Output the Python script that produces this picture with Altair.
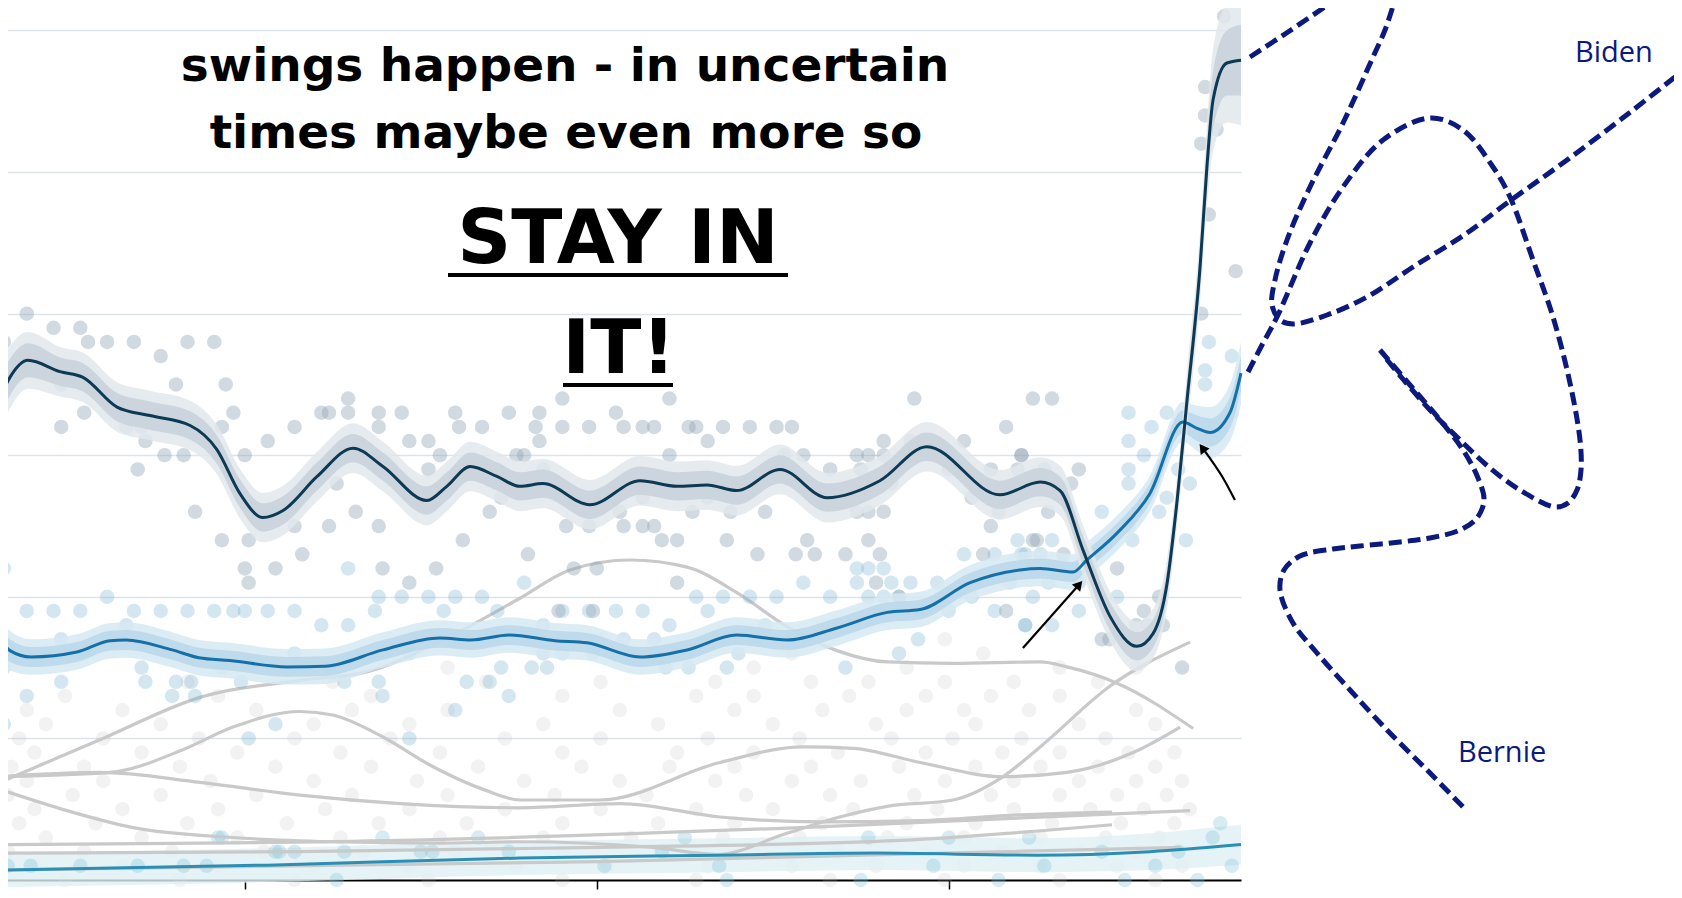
import altair as alt
import pandas as pd

BASE = pd.Timestamp("2019-04-25")


def to_dates(days):
    return [(BASE + pd.Timedelta(days=float(d))).strftime("%Y-%m-%dT%H:%M:%S") for d in days]


# ---------------- polling averages (day offset from 2019-04-25, percent) ----------------
biden_day = [3.0, 5.6, 10.3, 18.7, 24.7, 33.6, 42.2, 52.7, 59.7, 65.7, 71.7, 77.0, 85.9, 95.3, 103.1,
             114.6, 119.8, 125.9, 132.9, 138.9, 144.9, 157.2, 170.3, 180.0, 187.8, 195.6, 206.9, 219.2,
             233.0, 245.3, 264.4, 274.9, 280.1, 286.1, 293.2, 300.2, 304.4, 308.1, 310.7, 313.3, 316.7,
             318.5, 320.1, 323.7, 327.4]
biden_pct = [34.1, 35.5, 36.7, 35.9, 35.5, 33.4, 32.8, 32.1, 30.4, 27.3, 25.6, 26.1, 28.5, 30.5, 29.2,
             26.8, 27.8, 29.2, 28.5, 27.8, 28.0, 26.5, 28.2, 27.8, 27.9, 27.5, 29.0, 27.0,
             28.2, 30.6, 27.2, 28.1, 27.5, 23.3, 18.6, 16.5, 17.4, 21.0, 26.8, 33.9, 43.3,
             50.4, 55.1, 57.7, 57.9]
biden_in = [1.4, 1.3, 1.2] + [1.0] * 36 + [1.2, 1.4, 1.7, 2.0, 2.3, 2.5]
biden_out = [2.4, 2.2, 2.0] + [1.75] * 36 + [2.1, 2.5, 3.0, 3.6, 4.2, 4.6]

sanders_day = [3.0, 5.6, 11.1, 23.1, 31.8, 35.9, 48.0, 55.0, 63.1, 78.0, 88.0, 103.1, 118.0, 126.1,
               136.1, 148.1, 156.4, 170.3, 182.6, 195.6, 208.7, 221.8, 234.9, 243.5, 256.6, 269.6,
               274.9, 283.5, 287.1, 295.0, 303.6, 312.2, 315.9, 319.3, 324.5, 327.4]
sanders_pct = [17.1, 16.2, 15.75, 16.1, 16.9, 16.95, 16.25, 15.7, 15.5, 15.05, 15.1, 16.25, 17.1, 16.95,
               17.3, 16.9, 16.75, 15.75, 16.25, 17.3, 16.95, 17.8, 18.9, 19.1, 21.0, 21.9,
               22.0, 21.75, 22.6, 24.5, 27.3, 32.35, 31.9, 31.6, 33.0, 35.8]
sanders_in = [0.9, 0.8] + [0.7] * 29 + [0.8, 0.9, 1.0, 1.1, 1.2]
sanders_out = [1.5, 1.4] + [1.25] * 29 + [1.4, 1.6, 1.8, 2.0, 2.2]

teal_day = [3.0, 72.8, 138.9, 191.2, 232.2, 274.1, 303.6, 327.4]
teal_pct = [0.7, 1.05, 1.55, 1.75, 1.9, 1.75, 2.0, 2.5]
teal_band = [1.2, 1.2, 1.2, 1.2, 1.2, 1.2, 1.3, 1.4]

# other candidates (grey)
grey1_day = [3.0, 29.1, 55.3, 81.4, 98.9, 118.8, 138.9, 152.0, 167.7, 182.6, 195.6, 208.7, 221.8,
             234.9, 252.1, 274.9, 281.9, 295.0, 314.9]
grey1_pct = [6.9, 9.9, 12.9, 14.1, 14.7, 16.95, 19.9, 21.9, 22.6, 22.1, 20.3, 17.9, 16.2,
             15.4, 15.3, 15.4, 15.05, 13.9, 10.7]
grey2_day = [3.0, 31.8, 50.8, 63.9, 81.4, 90.0, 103.1, 116.2, 129.3, 138.9, 159.8, 191.2, 212.9,
             226.0, 243.5, 265.2, 281.9, 299.2, 311.5]
grey2_pct = [7.3, 7.6, 9.2, 10.8, 11.9, 11.65, 10.1, 8.0, 6.4, 5.65, 5.65, 8.3, 9.4,
             9.3, 8.3, 7.3, 7.6, 9.0, 10.8]
grey3_day = [3.0, 29.1, 55.3, 81.4, 107.6, 138.9, 165.1, 191.2, 217.3, 243.5, 269.6, 293.7]
grey3_pct = [7.3, 7.6, 6.9, 6.0, 5.4, 5.1, 5.4, 4.45, 4.1, 4.2, 4.6, 4.8]
grey4_day = [3.0, 20.5, 37.8, 63.9, 90.0, 116.2, 138.9, 173.7, 190.4, 208.7, 222.5, 234.9, 252.1,
             265.2, 274.9, 293.2, 314.1]
grey4_pct = [6.4, 4.9, 3.7, 3.0, 2.7, 2.6, 2.7, 2.3, 1.8, 3.3, 4.45, 5.2, 5.65,
             7.3, 9.4, 13.7, 16.8]
grey5_day = [3.0, 81.4, 159.8, 238.3, 293.7]
grey5_pct = [1.9, 2.0, 2.3, 2.8, 3.9]
grey6_day = [3.0, 107.6, 212.2, 314.1]
grey6_pct = [2.5, 2.8, 3.7, 4.9]
grey7_day = [3.0, 159.8, 311.8]
grey7_pct = [0.7, 1.3, 2.3]

# ---------------- individual polls (day, percent) ----------------
biden_polls = [
    (3, 39), (10, 40), (17, 39), (24, 39), (26, 38), (31, 38), (38, 38), (45, 37), (52, 38), (59, 38),
    (62, 35), (49, 35), (4, 38), (4, 36), (10, 36), (19, 35), (25, 35), (25, 33), (19, 32), (36, 32),
    (40, 32), (41, 31), (39, 29), (46, 30), (51, 30), (48, 32), (53, 32), (61, 32), (64, 33), (67, 30),
    (73, 31), (80, 32), (87, 33), (89, 33), (94, 34), (94, 33), (102, 33), (102, 32), (108, 33), (110, 31),
    (115, 31), (118, 30), (115, 29), (122, 33), (123, 32), (129, 32), (136, 33), (138, 30), (133, 29), (134, 27),
    (131, 26), (124, 24), (117, 22), (110, 21), (103, 22), (102, 25), (96, 26), (89, 25), (91, 28), (80, 25),
    (75, 26), (75, 22), (68, 24), (61, 24), (67, 22), (68, 21), (54, 26), (82, 23),
    (150, 34), (178, 34), (242, 34), (273, 34), (144, 33), (164, 33),
    (143, 32), (150, 32), (157, 32), (166, 32), (171, 32), (174, 32), (183, 32), (185, 32), (192, 32),
    (199, 32), (206, 32), (210, 32), (266, 32),
    (144, 31), (188, 31), (234, 31), (255, 31), (241, 31),
    (140, 30), (178, 30), (208, 30), (213, 30), (227, 30), (230, 30), (234, 30), (270, 30),
    (145, 29), (220, 29), (228, 29), (251, 29), (262, 29), (269, 29),
    (189, 28), (192, 28), (213, 28), (236, 28), (271, 28),
    (162, 27), (171, 27), (188, 27), (223, 27), (257, 27), (264, 27),
    (165, 26), (184, 26), (194, 26), (203, 26), (227, 26), (230, 26), (234, 26),
    (151, 25), (157, 25), (166, 25), (171, 25), (174, 25), (262, 25),
    (176, 24), (180, 24), (193, 24), (214, 24), (230, 24), (273, 24),
    (141, 23), (201, 23), (211, 23), (216, 23), (224, 23), (233, 23), (260, 23),
    (153, 22), (159, 22), (180, 21), (232, 21), (238, 20), (158, 19), (149, 19), (266, 19),
    (278, 34), (270, 30), (276, 29), (285, 29), (283, 28), (277, 26), (264, 26), (274, 24), (281, 23),
    (295, 22), (302, 19), (303, 18), (300, 18), (291, 17), (293, 17), (306, 20), (307, 18), (312, 15),
    (323, 61), (325, 58), (318, 56), (318, 54), (321, 53), (317, 52), (319, 47), (326, 43), (317, 40),
]

sanders_polls = [
    (4, 22), (31, 20), (10, 19), (17, 19), (24, 19), (38, 19), (45, 19), (52, 19), (59, 19), (64, 19),
    (67, 19), (73, 19), (80, 19), (36, 18), (87, 18), (94, 18), (94, 22), (102, 20), (108, 20), (115, 20),
    (122, 20), (129, 20), (101, 19), (119, 19), (133, 19), (19, 17),
    (25, 16), (40, 15), (19, 14), (10, 13), (4, 15), (4, 11), (41, 14), (49, 14), (53, 14), (48, 13),
    (54, 13), (61, 15), (66, 14), (80, 16), (89, 15), (93, 14), (102, 14), (103, 13), (110, 16), (125, 14),
    (122, 12), (131, 14), (134, 15), (136, 13), (75, 11), (68, 10), (110, 10),
    (269, 24), (255, 23), (263, 23), (270, 23), (227, 22), (230, 22), (234, 22), (213, 21), (227, 21),
    (236, 21), (241, 21), (248, 21), (140, 21), (185, 20), (192, 20), (199, 20), (206, 20), (220, 20),
    (230, 20), (234, 20), (238, 20), (257, 20), (273, 20), (150, 19), (157, 19), (164, 19), (171, 19),
    (188, 19), (243, 19), (251, 19), (263, 19), (178, 18), (203, 18), (271, 18), (145, 18), (166, 17),
    (174, 17), (201, 17), (243, 17), (145, 16), (150, 16), (158, 16), (196, 16), (238, 16), (142, 15),
    (146, 15), (177, 15), (183, 15), (193, 15), (224, 15),
    (298, 33), (308, 33), (325, 33), (304, 32), (298, 31), (311, 29), (298, 29), (302, 30), (314, 28),
    (298, 28), (308, 27), (291, 26), (306, 26), (298, 25), (313, 24), (299, 24), (278, 24), (271, 23),
    (275, 23), (288, 22), (277, 21), (285, 21), (267, 21), (295, 20), (285, 19), (271, 18), (278, 18),
    (319, 38), (325, 37), (318, 36), (318, 35),
]

teal_polls = [
    (60, 3), (103, 3), (128, 3), (182, 3), (230, 3), (251, 3), (272, 3), (320, 3), (322, 4), (5, 1),
    (11, 1), (24, 1), (39, 1), (51, 1), (57, 1), (76, 2), (91, 0), (116, 2), (136, 2), (161, 1),
    (176, 2), (191, 1), (193, 0), (228, 0), (247, 1), (264, 0), (276, 1), (297, 0), (305, 1), (316, 0),
    (325, 1), (311, 2), (291, 2), (61, 3), (75, 2), (80, 2), (93, 2), (113, 2),
]

other_polls = [
    (0, [20, 50, 80, 115, 150, 185, 220, 250, 280, 305]),
    (1, [12, 35, 60, 85, 110, 138, 162, 188, 210, 232, 255, 275, 295, 312]),
    (2, [5, 25, 48, 72, 98, 122, 150, 178, 200, 222, 245, 265, 285, 300]),
    (3, [15, 40, 65, 92, 118, 145, 168, 192, 212, 235, 255, 275, 292, 306]),
    (4, [8, 28, 52, 78, 102, 125, 150, 175, 195, 218, 240, 258, 278, 296, 310]),
    (5, [12, 35, 60, 88, 110, 135, 160, 185, 205, 226, 248, 268, 288, 302, 314]),
    (6, [5, 22, 45, 70, 95, 120, 148, 172, 198, 220, 242, 262, 280, 295, 308]),
    (7, [10, 30, 58, 85, 112, 140, 165, 190, 210, 228, 250, 268, 285, 300, 312]),
    (8, [6, 25, 50, 75, 100, 128, 155, 178, 195, 215, 238, 258, 275, 290, 305]),
    (9, [12, 40, 65, 92, 118, 150, 180, 200, 222, 245, 265, 280, 298, 310]),
    (10, [8, 30, 55, 80, 105, 135, 160, 188, 212, 236, 252, 270, 292]),
    (11, [15, 45, 85, 110, 145, 175, 205, 232, 258, 285, 305]),
    (12, [10, 35, 70, 95, 120, 165, 195, 218, 240, 255, 272, 300]),
    (13, [20, 60, 100, 150, 185, 200, 225, 245, 262, 280]),
    (14, [52, 90, 130, 160, 190, 215, 230, 250, 268, 290]),
    (15, [120, 200, 240, 280, 300]),
    (16, [180, 210, 260]),
    (17, [160, 250]),
]

# arrows (day, percent)
arrow1_day = [270.4, 285.1]
arrow1_pct = [16.38, 20.87]
arrow2_day = [325.8, 322.4, 319.8, 317.3]
arrow2_pct = [26.84, 28.53, 29.59, 30.52]
head_day = [285.1, 317.3]
head_pct = [20.87, 30.52]
head_angle = [41, 324]

# ---------------- hand-drawn overlay (sketch pixel coordinates) ----------------
sketch_top = [(1250, 57), (1288, 32), (1335, 0), (1350, -10)]
sketch_biden = [(1398, -10), (1385, 30), (1373, 57), (1343, 123), (1310, 187), (1287, 240), (1275, 280),
                (1272, 305), (1280, 320), (1293, 324), (1327, 315), (1367, 297), (1413, 267), (1467, 233),
                (1507, 203), (1567, 160), (1633, 110), (1690, 65)]
sketch_loop = [(1248, 372), (1262, 345), (1277, 317), (1310, 243), (1343, 187), (1383, 140), (1430, 118),
               (1463, 130), (1493, 167), (1510, 197), (1533, 260), (1553, 317), (1570, 383), (1580, 440),
               (1581, 470), (1577, 490), (1568, 503), (1555, 507), (1520, 490), (1490, 468), (1460, 440),
               (1430, 410), (1402, 378), (1384, 356)]
sketch_bernie = [(1380, 350), (1410, 385), (1440, 420), (1463, 450), (1478, 478), (1484, 500), (1477, 518),
                 (1460, 530), (1430, 538), (1400, 542), (1360, 546), (1333, 549), (1300, 556), (1284, 570),
                 (1280, 590), (1293, 623), (1317, 653), (1350, 690), (1387, 730), (1427, 770), (1466, 810)]

small_text = ["swings happen - in uncertain", "times maybe even more so"]
small_text_xy = [(565, 81), (566, 148)]
big_text = ["STAY IN", "IT!"]
big_text_xy = [(618, 263), (619, 373)]
underlines = [(448, 788, 275), (563, 673, 385)]
names = ["Biden", "Bernie"]
names_xy = [(1575, 62), (1458, 762)]

NAVY = "#0b1a7c"

# ---------------- build tables ----------------
def line_df(days, pcts, name):
    return pd.DataFrame({"date": to_dates(days), "pct": pcts, "name": name})


def band_df(days, pcts, half):
    return pd.DataFrame({"date": to_dates(days),
                         "lo": [p - h for p, h in zip(pcts, half)],
                         "hi": [p + h for p, h in zip(pcts, half)]})


def polls_df(pairs):
    return pd.DataFrame({"date": to_dates([d for d, _ in pairs]), "pct": [p for _, p in pairs]})


other_pairs = [(d, p) for p, ds in other_polls for d in ds]

grey_df = pd.concat([
    line_df(grey1_day, grey1_pct, "g1"), line_df(grey2_day, grey2_pct, "g2"),
    line_df(grey3_day, grey3_pct, "g3"), line_df(grey4_day, grey4_pct, "g4"),
    line_df(grey5_day, grey5_pct, "g5"), line_df(grey6_day, grey6_pct, "g6"),
    line_df(grey7_day, grey7_pct, "g7"),
])

X_DOMAIN = [alt.DateTime(year=2019, month=4, date=28),
            alt.DateTime(year=2020, month=3, date=17, hours=9, minutes=36)]

x_axis = alt.Axis(
    values=[alt.DateTime(year=2019, month=7, date=1), alt.DateTime(year=2019, month=10, date=1),
            alt.DateTime(year=2020, month=1, date=1)],
    labelExpr="month(datum.value) == 0 ? timeFormat(datum.value, '%b %Y') : timeFormat(datum.value, '%b')",
    grid=False, domainColor="black", domainWidth=2, tickColor="black", tickSize=9, tickWidth=1.5,
    labelFontSize=16, labelColor="#222222", labelPadding=4, labelFont="DejaVu Sans",
)
y_axis = alt.Axis(values=[0, 10, 20, 30, 40, 50, 60], labels=False, ticks=False, domain=False,
                  grid=True, gridColor="#dce3e9", gridWidth=1.5)


def X():
    return alt.X("date:T", scale=alt.Scale(domain=X_DOMAIN), axis=x_axis, title=None)


def Y(field):
    return alt.Y(f"{field}:Q", scale=alt.Scale(domain=[0, 62.15], nice=False, zero=False),
                 axis=y_axis, title=None)


def dots(df, color, opacity):
    return alt.Chart(df).mark_circle(size=210, color=color, opacity=opacity).encode(x=X(), y=Y("pct"))


def band(df, color, opacity):
    return alt.Chart(df).mark_area(color=color, opacity=opacity, interpolate="monotone").encode(
        x=X(), y=Y("lo"), y2="hi:Q")


def line(df, color, width=3):
    return alt.Chart(df).mark_line(color=color, strokeWidth=width, interpolate="monotone").encode(
        x=X(), y=Y("pct"), detail="name:N")


heads_df = pd.DataFrame({"date": to_dates(head_day), "pct": head_pct, "ang": head_angle})

main = alt.layer(
    dots(polls_df(other_pairs), "#b5b5b5", 0.18),
    band(band_df(teal_day, teal_pct, teal_band), "#dff0f5", 0.8),
    dots(polls_df(teal_polls), "#7ec0d6", 0.32),
    line(grey_df, "#c9c9c9", 3.2),
    dots(polls_df(sanders_polls), "#6fb0cf", 0.3),
    dots(polls_df(biden_polls), "#8ea2b3", 0.4),
    line(line_df(teal_day, teal_pct, "teal"), "#2b8fb5", 3),
    band(band_df(sanders_day, sanders_pct, sanders_out), "#d6e9f3", 0.85),
    band(band_df(sanders_day, sanders_pct, sanders_in), "#b9d7e9", 0.85),
    band(band_df(biden_day, biden_pct, biden_out), "#e2e8ec", 0.85),
    band(band_df(biden_day, biden_pct, biden_in), "#c7d1d9", 0.85),
    line(line_df(sanders_day, sanders_pct, "sanders"), "#1470a8", 3),
    line(line_df(biden_day, biden_pct, "biden"), "#0c3954", 3),
    line(pd.concat([line_df(arrow1_day, arrow1_pct, "a1"), line_df(arrow2_day, arrow2_pct, "a2")]),
         "black", 2.2),
    alt.Chart(heads_df).mark_point(shape="triangle-up", filled=True, color="black", size=120,
                                   opacity=1).encode(x=X(), y=Y("pct"), angle=alt.Angle("ang:Q", scale=None)),
)

SX = alt.X("sx:Q", scale=alt.Scale(domain=[0, 1241], nice=False, zero=False), axis=None)
SY = alt.Y("sy:Q", scale=alt.Scale(domain=[0, 880], nice=False, zero=False, reverse=True), axis=None)

curve_rows = []
for cname, pts in [("top", sketch_top), ("biden", sketch_biden), ("loop", sketch_loop), ("bernie", sketch_bernie)]:
    for i, (sx, sy) in enumerate(pts):
        curve_rows.append({"curve": cname, "i": i, "sx": sx, "sy": sy})
curves_df = pd.DataFrame(curve_rows)

small_df = pd.DataFrame({"label": small_text, "sx": [p[0] for p in small_text_xy], "sy": [p[1] for p in small_text_xy]})
big_df = pd.DataFrame({"label": big_text, "sx": [p[0] for p in big_text_xy], "sy": [p[1] for p in big_text_xy]})
under_df = pd.DataFrame({"sx": [u[0] for u in underlines], "sx2": [u[1] for u in underlines], "sy": [u[2] for u in underlines]})
names_df = pd.DataFrame({"label": names, "sx": [p[0] for p in names_xy], "sy": [p[1] for p in names_xy]})

annot = alt.layer(
    alt.Chart(curves_df).mark_line(color=NAVY, strokeWidth=5, strokeDash=[13, 6],
                                   interpolate="catmull-rom", clip=False).encode(
        x=SX, y=SY, detail="curve:N", order="i:Q"),
    alt.Chart(small_df).mark_text(font="DejaVu Sans", fontSize=47, fontWeight="bold", align="center",
                                  baseline="alphabetic", color="black").encode(x=SX, y=SY, text="label:N"),
    alt.Chart(big_df).mark_text(font="DejaVu Sans", fontSize=75, fontWeight="bold", align="center",
                                baseline="alphabetic", color="black").encode(x=SX, y=SY, text="label:N"),
    alt.Chart(under_df).mark_rule(color="black", strokeWidth=4).encode(x=SX, x2="sx2:Q", y=SY),
    alt.Chart(names_df).mark_text(font="Open Sans", fontSize=29, align="left", baseline="alphabetic",
                                  color=NAVY, clip=False).encode(x=SX, y=SY, text="label:N"),
)

chart = alt.layer(main, annot).resolve_scale(x="independent", y="independent").properties(
    width=1241, height=880,
    autosize=alt.AutoSizeParams(type="none"),
    padding={"left": -8, "top": -8, "right": 433, "bottom": 10},
    background="white",
).configure_view(strokeWidth=0)

chart.save("out.html", embed_options={"renderer": "svg", "actions": False})
